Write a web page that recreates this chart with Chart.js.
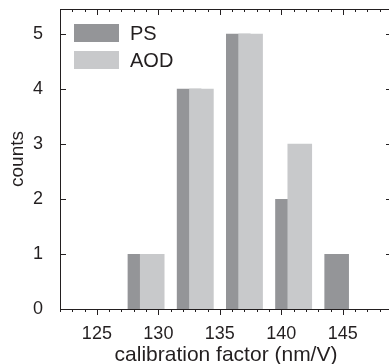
<!DOCTYPE html>
<html>
<head>
<meta charset="utf-8">
<script src="https://cdn.jsdelivr.net/npm/chart.js@4/dist/chart.umd.min.js"></script>
<style>
  html, body { margin: 0; padding: 0; background: #fff; overflow: hidden; }
  #wrap { width: 396px; height: 364px; }
</style>
</head>
<body>
<div id="wrap"><canvas id="hist"></canvas></div>
<script>
// histogram bins (bar centres) and counts for each method
const psBins = [128.5, 132.5, 136.5, 140.5, 144.5];
const psCounts = [1, 4, 5, 2, 1];
const aodBins = [129.5, 133.5, 137.5, 141.5];
const aodCounts = [1, 4, 5, 3];
const xTicks = [125, 130, 135, 140, 145];
const yTicks = [0, 1, 2, 3, 4, 5];

const ink = '#231f20';
const family = 'Liberation Sans, Arial, sans-serif';
const tickFont = { family: family, size: 18 };

// frame with ticks on all four sides plus the legend in the top-left corner
const framePlugin = {
    id: 'frame',
    afterDatasetsDraw(chart) {
        const { ctx, chartArea: a, scales: { x, y } } = chart;
        ctx.save();
        ctx.strokeStyle = ink;
        ctx.lineWidth = 1;
        ctx.strokeRect(a.left + 0.5, a.top + 0.5, a.right - a.left, a.bottom - a.top);
        ctx.beginPath();
        for (let v = Math.ceil(x.min); v <= x.max; v++) {
            const px = Math.round(x.getPixelForValue(v)) + 0.5;
            const len = v % 5 === 0 ? 6 : 3;
            ctx.moveTo(px, a.top); ctx.lineTo(px, a.top + len);
            ctx.moveTo(px, a.bottom); ctx.lineTo(px, a.bottom + len);
        }
        yTicks.forEach(v => {
            const py = Math.round(y.getPixelForValue(v)) + 0.5;
            ctx.moveTo(a.left, py); ctx.lineTo(a.left + 6, py);
            ctx.moveTo(a.right, py); ctx.lineTo(a.right - 6, py);
        });
        ctx.stroke();

        // legend
        ctx.font = '20px ' + family;
        ctx.textBaseline = 'middle';
        chart.data.datasets.forEach((ds, i) => {
            const bx = a.left + 14, by = a.top + 15 + i * 27;
            ctx.fillStyle = ds.backgroundColor;
            ctx.fillRect(bx, by, 45, 18);
            ctx.fillStyle = ink;
            ctx.fillText(ds.label, bx + 56, by + 10);
        });
        ctx.restore();
    }
};

new Chart(document.getElementById('hist'), {
    type: 'bar',
    data: {
        datasets: [{
            label: 'PS',
            data: psBins.map((b, i) => ({ x: b, y: psCounts[i] })),
            backgroundColor: '#949598',
            order: 1
        }, {
            label: 'AOD',
            data: aodBins.map((b, i) => ({ x: b, y: aodCounts[i] })),
            backgroundColor: '#c8c9cb',
            order: 0
        }]
    },
    options: {
        responsive: true,
        maintainAspectRatio: false,
        animation: false,
        grouped: false,
        barPercentage: 2,
        categoryPercentage: 1,
        layout: { padding: { top: 9, right: 4, left: 0, bottom: 0 } },
        plugins: { legend: { display: false }, tooltip: { enabled: false } },
        scales: {
            x: {
                type: 'linear',
                min: 122,
                max: 149,
                offset: false,
                grid: { display: false },
                border: { display: false },
                ticks: {
                    stepSize: 5,
                    includeBounds: false,
                    autoSkip: false,
                    maxRotation: 0,
                    padding: 6,
                    color: ink,
                    font: tickFont,
                    callback: v => xTicks.includes(v) ? String(v) : ''
                },
                title: {
                    display: true, text: 'calibration factor (nm/V)', color: ink,
                    font: { family: family, size: 21 }, padding: { top: 0, bottom: -4 }
                },
                afterFit: s => {
                    s.height = 55;
                    s.paddingLeft = 0;
                    s.paddingRight = 0;
                }
            },
            y: {
                min: 0,
                max: 5.45,
                grid: { display: false },
                border: { display: false },
                ticks: {
                    stepSize: 1,
                    includeBounds: false,
                    padding: 9,
                    color: ink,
                    font: tickFont,
                    callback: v => yTicks.includes(v) ? String(v) : ''
                },
                title: {
                    display: true, text: 'counts', color: ink,
                    font: { family: family, size: 19 }, padding: 6
                },
                afterFit: s => {
                    s.width = 60;
                    s.paddingTop = 0;
                    s.paddingBottom = 0;
                }
            }
        }
    },
    plugins: [framePlugin]
});
</script>
</body>
</html>
